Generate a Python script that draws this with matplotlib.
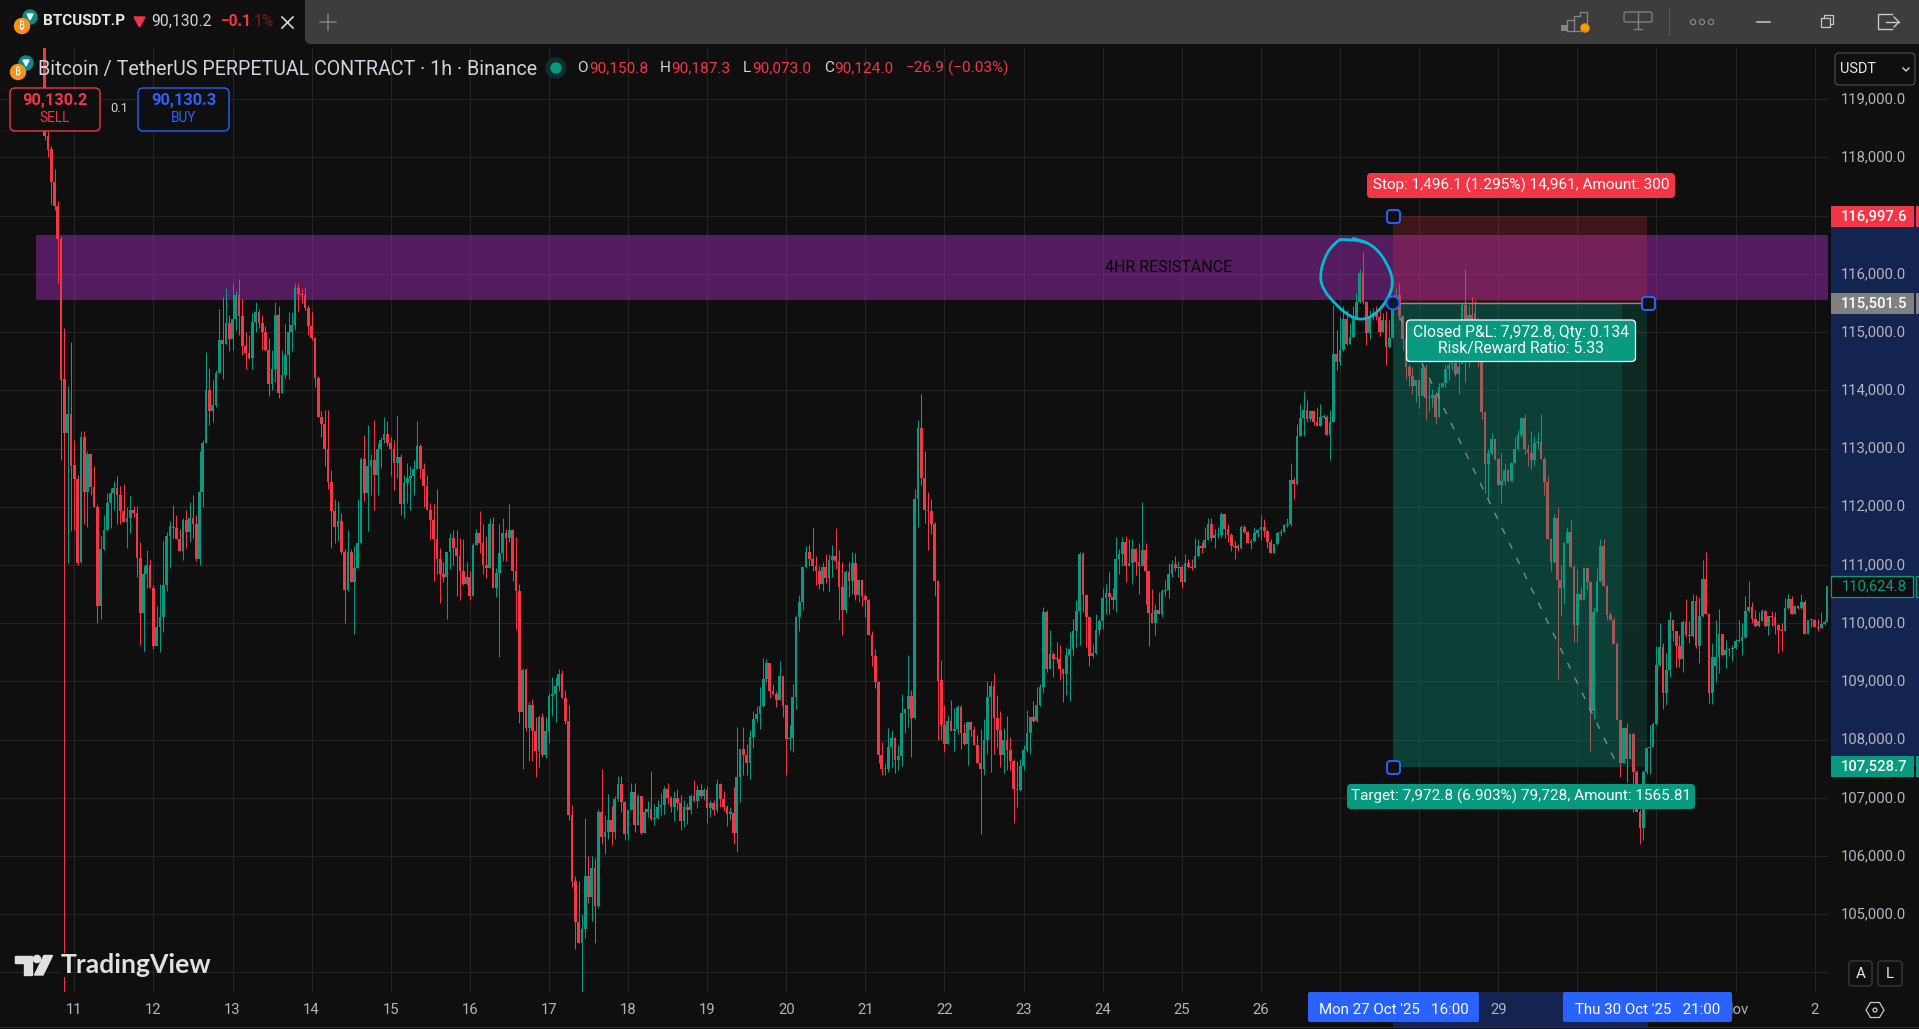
import matplotlib
matplotlib.use('Agg')
import matplotlib.pyplot as plt
from matplotlib.patches import FancyBboxPatch, Rectangle, Circle, Polygon, PathPatch
from matplotlib.path import Path

plt.rcParams['font.family'] = ['Roboto', 'DejaVu Sans']

GREEN = '#089981'
RED = '#f23645'
BLUE = '#2962ff'
BG = '#0f0f0f'
GREY = '#b2b5be'

# BTCUSDT.P 1h candles, price in thousands: (open, high, low, close)
oct_10 = [(120.5,120.6,118.3,118.37),(118.37,118.45,118.0,118.13),(118.15,118.2,117.2,117.58),(117.58,117.8,117.1,117.17),
(117.17,117.25,115.85,116.6),(116.6,116.65,112.8,114.18),(114.2,115.07,103.5,113.26),(113.26,114.07,111.04,113.6),(113.6,114.83,111.58,112.7)]
oct_11 = [(112.72,113.14,111.6,112.48),(112.48,112.55,111.0,111.04),(111.05,113.3,111.04,113.2),(113.2,113.3,111.7,112.26),
(112.26,112.95,111.65,112.9),(112.9,112.92,112.2,112.34),(112.34,112.7,112.0,112.0),(112.0,112.05,110.0,110.3),
(110.3,111.49,110.07,111.28),(111.28,111.85,111.25,111.6),(111.6,112.23,111.6,112.06),(112.07,112.32,111.63,112.23),
(112.23,112.45,111.95,112.32),(112.32,112.52,111.7,112.2),(112.2,112.35,111.7,111.93),(111.93,112.39,111.74,111.74),
(111.74,112.0,111.3,111.8),(111.8,112.2,111.55,111.95),(111.95,112.02,111.82,111.9),(111.9,112.02,110.8,111.12),
(111.12,111.4,109.63,110.17),(110.17,110.98,109.52,110.85),(110.85,111.25,110.6,111.0),(111.0,111.1,110.6,110.6)]
oct_12 = [(110.6,110.65,109.55,109.6),(109.6,110.3,109.6,109.94),(109.94,110.68,109.51,110.1),(110.1,111.42,109.85,110.65),
(110.65,111.56,110.56,111.5),(111.5,111.75,110.94,111.67),(111.65,112.03,111.47,111.63),(111.63,111.86,111.45,111.45),
(111.45,111.62,111.24,111.24),(111.24,111.8,111.08,111.77),(111.77,111.95,111.3,111.57),(111.57,112.08,111.4,111.8),
(111.8,112.2,111.47,111.7),(111.7,111.85,111.07,111.1),(111.1,112.95,111.0,112.25),(112.25,113.14,112.0,113.1),
(113.1,114.66,113.1,114.0),(114.0,114.39,113.4,113.65),(113.65,114.18,113.45,113.75),(113.75,114.35,113.72,114.3),
(114.3,115.4,114.3,114.87),(114.87,115.6,114.2,114.8),(114.8,115.75,114.8,115.15),(115.15,115.3,114.68,114.88)]
oct_13 = [(114.88,115.84,114.7,115.23),(115.23,115.7,115.04,115.64),(115.64,115.92,114.95,115.27),(115.27,115.57,114.6,114.76),
(114.76,115.0,114.37,114.64),(114.64,114.95,114.53,114.55),(114.55,115.32,114.37,115.17),(115.17,115.51,115.0,115.35),
(115.35,115.4,115.07,115.15),(115.15,115.3,114.7,115.0),(115.0,115.1,114.67,114.7),(114.7,114.9,113.9,114.1),
(114.1,114.7,114.0,114.37),(114.37,115.51,114.15,115.3),(115.3,115.44,113.86,113.95),(113.95,114.7,113.95,114.27),
(114.27,115.14,114.2,114.6),(114.6,115.35,114.2,115.0),(115.0,115.34,114.67,115.12),(115.12,115.84,115.03,115.75),
(115.75,115.84,115.34,115.65),(115.65,115.76,115.5,115.63),(115.63,115.78,115.38,115.42),(115.42,115.47,114.95,115.1)]
oct_14 = [(115.1,115.37,114.86,114.9),(114.9,114.92,114.05,114.22),(114.22,114.25,113.55,113.55),(113.55,113.64,113.2,113.43),
(113.43,113.67,112.7,113.0),(113.0,113.67,112.3,112.42),(112.42,112.63,111.3,111.93),(111.93,112.14,111.38,111.65),
(111.65,112.1,111.42,111.75),(111.75,111.9,111.18,111.22),(111.22,111.27,110.0,110.57),(110.57,111.6,110.55,111.22),
(111.22,111.27,110.7,110.7),(110.7,111.32,109.82,110.95),(110.95,112.14,110.95,111.37),(111.37,112.85,111.37,112.82),
(112.82,113.23,112.1,112.23),(112.23,113.4,111.58,112.7),(112.7,112.9,112.2,112.8),(112.8,113.49,111.95,112.55),
(112.55,113.1,112.2,113.0),(113.0,113.2,112.66,113.15),(113.15,113.55,113.1,113.25),(113.25,113.47,113.05,113.1)]
oct_15 = [(113.1,113.2,112.53,113.0),(113.0,113.14,112.28,112.75),(112.75,113.57,112.5,112.85),(112.85,112.9,111.85,112.05),
(112.05,112.55,111.8,112.4),(112.4,112.75,112.07,112.5),(112.5,112.7,111.95,112.53),(112.53,112.8,112.2,112.65),
(112.65,113.48,112.65,113.05),(113.05,113.08,112.5,112.65),(112.65,112.75,112.0,112.35),(112.35,112.55,111.95,111.95),
(111.95,112.07,111.43,111.78),(111.78,112.07,110.73,111.45),(111.45,112.3,110.85,111.1),(111.1,111.3,110.35,110.85),
(110.85,111.05,110.7,110.8),(110.8,111.23,110.07,111.23),(111.23,111.55,110.93,111.47),(111.47,111.6,111.0,111.3),
(111.3,111.6,110.47,111.15),(111.15,111.47,110.4,110.9),(110.9,111.44,110.66,110.67),(110.67,111.05,110.65,110.8)]
oct_16 = [(110.8,110.9,110.4,110.47),(110.47,111.37,110.47,111.35),(111.35,111.62,111.35,111.55),(111.55,111.93,111.2,111.38),
(111.38,111.7,110.84,111.0),(111.0,111.5,110.77,110.95),(110.95,111.8,110.95,111.7),(111.7,111.83,110.6,110.6),
(110.6,110.95,110.45,110.87),(110.87,111.7,109.42,111.2),(111.2,111.8,111.07,111.55),(111.55,111.62,111.07,111.47),
(111.47,112.05,111.4,111.6),(111.6,111.62,110.72,110.9),(110.9,111.48,109.9,110.55),(110.55,110.67,108.28,108.48),
(108.48,109.23,107.5,109.2),(109.2,109.23,108.15,108.2),(108.2,108.65,107.64,108.6),(108.6,108.7,107.64,108.15),
(108.15,108.38,107.36,107.8),(107.8,108.42,107.53,108.38),(108.38,108.45,107.7,107.73),(107.73,108.38,107.68,108.15)]
oct_17 = [(108.15,108.8,107.94,108.75),(108.75,109.07,108.4,108.78),(108.78,109.07,108.3,108.92),(108.92,109.21,108.84,109.13),
(109.13,109.2,108.72,108.72),(108.72,108.85,108.26,108.32),(108.32,108.6,106.62,106.7),(106.7,106.87,105.47,105.57),
(105.57,105.65,104.4,104.86),(104.86,105.57,104.5,104.5),(104.5,105.0,103.5,104.75),(104.75,106.65,104.6,105.65),
(105.65,106.0,105.2,105.3),(105.3,106.0,104.88,105.8),(105.8,105.97,104.5,105.15),(105.15,106.8,105.1,106.75),
(106.75,107.5,106.2,106.33),(106.33,106.7,106.04,106.41),(106.41,107.06,106.3,106.62),(106.62,106.86,106.19,106.42),
(106.42,107.03,106.3,106.98),(106.98,107.37,106.95,107.23),(107.23,107.37,106.75,106.93),(106.93,106.95,106.27,106.38)]
oct_18 = [(106.38,106.79,106.27,106.79),(106.79,107.25,106.79,107.1),(107.1,107.25,106.42,106.53),(106.53,107.07,106.53,107.03),
(107.03,107.03,106.38,106.39),(106.39,106.82,106.39,106.76),(106.76,106.94,106.67,106.8),(106.8,107.46,106.62,106.63),
(106.63,106.9,106.53,106.65),(106.65,106.96,106.63,106.84),(106.84,107.09,106.7,106.87),(106.87,107.2,106.72,107.16),
(107.16,107.25,106.89,107.0),(107.0,107.04,106.75,106.84),(106.84,107.12,106.6,107.0),(107.0,107.16,106.79,106.91),
(106.91,107.05,106.44,106.6),(106.6,106.97,106.5,106.84),(106.84,106.91,106.55,106.79),(106.79,107.07,106.72,107.03),
(107.03,107.3,106.93,106.94),(106.94,107.22,106.82,107.13),(107.13,107.25,107.0,107.04),(107.04,107.17,106.97,107.13)]
oct_19 = [(107.13,107.21,106.57,106.82),(106.82,106.97,106.67,106.91),(106.91,106.97,106.7,106.79),(106.79,107.32,106.75,107.23),
(107.23,107.25,106.84,106.98),(106.98,107.12,106.78,106.85),(106.85,106.87,106.51,106.73),(106.73,106.84,106.62,106.74),
(106.74,107.19,106.2,106.4),(106.4,108.21,106.07,107.36),(107.36,107.84,106.93,107.84),(107.84,108.21,107.4,107.73),
(107.73,107.93,107.39,107.6),(107.6,108.17,107.33,108.04),(108.04,108.49,107.85,108.36),(108.36,108.58,108.3,108.44),
(108.44,108.91,108.19,108.58),(108.58,109.4,108.56,109.04),(109.04,109.38,108.99,109.31),(109.31,109.32,108.72,108.84),
(108.84,108.95,108.77,108.78),(108.78,108.84,108.56,108.68),(108.68,109.35,108.68,109.09),(109.09,109.09,108.38,108.58)]
oct_20 = [(108.59,108.59,107.4,108.01),(108.01,108.25,107.83,108.02),(108.02,108.95,107.78,108.73),(108.73,110.12,108.53,110.1),
(110.1,110.49,109.87,110.37),(110.37,110.97,110.23,110.97),(110.97,111.32,110.95,111.23),(111.23,111.35,110.99,111.1),
(111.1,111.65,110.89,110.99),(110.99,111.15,110.66,110.89),(110.89,110.99,110.59,110.68),(110.68,111.05,110.55,110.97),
(110.97,111.19,110.69,110.78),(110.78,111.18,110.53,111.09),(111.09,111.35,110.79,111.15),(111.15,111.64,110.93,111.07),
(111.07,111.25,110.05,110.62),(110.62,111.05,109.8,110.23),(110.23,110.91,110.17,110.88),(110.88,111.05,110.45,110.72),
(110.72,111.22,110.5,111.04),(111.04,111.2,110.39,110.49),(110.49,110.76,110.36,110.74),(110.74,110.74,110.3,110.46)]
oct_21 = [(110.46,110.5,110.1,110.39),(110.39,110.42,109.79,109.79),(109.79,109.87,109.26,109.44),(109.44,109.56,108.88,108.99),
(108.99,109.0,107.59,107.73),(107.73,107.96,107.4,107.49),(107.49,107.6,107.4,107.5),(107.5,108.2,107.44,107.87),
(107.87,108.17,107.53,108.03),(108.03,108.05,107.42,107.65),(107.65,107.9,107.47,107.72),(107.72,108.79,107.54,108.45),
(108.45,108.52,108.12,108.52),(108.52,109.46,108.21,108.75),(108.75,108.86,107.7,108.37),(108.37,112.3,108.35,112.13),
(112.13,113.49,111.65,113.35),(113.35,113.93,112.37,112.49),(112.49,112.95,111.72,111.94),(111.94,112.26,111.25,111.93),
(111.93,112.14,111.54,111.7),(111.7,111.73,110.47,110.72),(110.72,110.75,108.0,109.0),(109.02,109.37,108.0,108.25)]
oct_22 = [(108.25,108.6,107.79,107.92),(107.92,108.43,107.92,108.32),(108.32,108.68,108.15,108.15),(108.15,108.55,107.8,108.18),
(108.18,108.6,108.09,108.56),(108.56,108.6,107.84,108.12),(108.12,108.29,107.9,107.92),(107.92,108.3,107.56,108.3),
(108.3,108.32,108.07,108.16),(108.16,108.23,107.9,107.9),(107.9,108.08,107.59,107.6),(107.6,108.18,106.38,107.49),
(107.49,108.35,107.4,108.0),(108.0,109.0,107.75,108.73),(108.73,109.0,107.45,108.92),(108.92,109.15,107.75,108.37),
(108.37,108.77,107.86,108.16),(108.16,108.5,107.53,107.73),(107.73,108.2,107.43,107.99),(107.99,108.4,107.48,107.82),
(107.82,108.05,107.47,107.63),(107.63,107.67,106.56,107.15),(107.15,107.64,106.85,107.13),(107.13,107.66,107.12,107.54)]
oct_23 = [(107.54,107.9,107.47,107.82),(107.82,108.51,107.79,108.11),(108.11,108.38,107.75,108.38),(108.38,108.66,108.3,108.32),
(108.32,108.9,108.3,108.59),(108.59,108.96,108.58,108.9),(108.9,110.28,108.8,110.2),(110.2,110.23,109.17,109.21),
(109.21,109.89,109.21,109.47),(109.47,109.51,109.07,109.39),(109.39,109.68,109.32,109.38),(109.38,109.63,109.02,109.21),
(109.21,109.22,108.64,109.13),(109.13,109.59,108.76,109.45),(109.45,109.87,108.66,109.56),(109.56,110.08,109.44,109.87),
(109.87,110.4,109.59,110.21),(110.21,111.23,109.63,111.18),(111.18,111.23,110.19,110.49),(110.49,110.5,109.59,110.11),
(110.11,110.12,109.26,109.44),(109.44,109.64,109.41,109.49),(109.49,110.15,109.47,109.89),(109.89,110.08,109.79,110.03)]
oct_24 = [(110.03,110.6,109.9,110.44),(110.44,110.68,110.15,110.52),(110.52,110.88,110.15,110.45),(110.45,110.6,110.25,110.39),
(110.39,111.48,110.2,111.11),(111.11,111.28,110.85,111.19),(111.19,111.48,110.99,111.4),(111.4,111.5,110.7,110.99),
(110.99,111.44,110.98,111.03),(111.03,111.45,110.67,111.28),(111.28,111.3,110.82,111.05),(111.05,111.38,110.5,110.99),
(110.99,112.09,110.98,111.25),(111.25,111.38,110.33,110.89),(110.89,110.9,109.6,110.17),(110.17,110.59,110.0,110.0),
(110.0,110.33,109.79,110.22),(110.22,110.53,110.15,110.15),(110.15,110.59,110.1,110.55),(110.55,110.74,110.47,110.57),
(110.57,111.03,110.44,110.85),(110.85,111.08,110.8,111.02),(111.02,111.15,110.9,110.95),(110.95,111.06,110.8,110.96)]
oct_25 = [(110.96,111.0,110.6,110.71),(110.71,111.18,110.7,111.03),(111.03,111.1,110.94,110.96),(110.96,111.1,110.92,110.94),
(110.94,111.47,110.94,111.16),(111.16,111.44,111.14,111.33),(111.33,111.39,111.2,111.29),(111.29,111.65,111.29,111.43),
(111.43,111.8,111.43,111.71),(111.71,111.8,111.42,111.46),(111.46,111.62,111.3,111.51),(111.51,111.65,111.46,111.52),
(111.52,111.91,111.47,111.87),(111.87,111.88,111.47,111.61),(111.61,111.7,111.4,111.52),(111.52,111.55,111.24,111.32),
(111.32,111.42,111.1,111.31),(111.31,111.36,111.24,111.3),(111.3,111.68,111.27,111.66),(111.66,111.68,111.55,111.56),
(111.56,111.58,111.37,111.38),(111.38,111.44,111.28,111.41),(111.41,111.65,111.4,111.55),(111.55,111.62,111.48,111.6)]
oct_26 = [(111.6,111.86,111.43,111.66),(111.66,111.79,111.48,111.58),(111.58,111.6,111.3,111.39),(111.39,111.45,111.2,111.2),
(111.2,111.36,111.2,111.36),(111.36,111.56,111.34,111.55),(111.55,111.62,111.5,111.57),(111.57,111.71,111.56,111.68),
(111.68,111.8,111.66,111.71),(111.71,112.76,111.67,112.46),(112.46,112.51,112.13,112.39),(112.39,113.43,112.37,113.22),
(113.22,113.77,113.22,113.53),(113.53,113.99,113.22,113.67),(113.67,113.84,113.45,113.5),(113.5,113.67,113.47,113.64),
(113.64,113.67,113.4,113.45),(113.45,113.71,113.38,113.38),(113.38,113.77,113.38,113.54),(113.54,113.6,113.52,113.55),
(113.55,113.57,113.23,113.24),(113.24,113.67,112.8,113.45),(113.45,115.47,113.45,114.63),(114.63,115.03,114.35,114.49)]
oct_27 = [(114.49,115.26,114.44,114.7),(114.7,115.44,114.68,115.22),(115.22,115.38,114.77,114.8),(114.8,115.15,114.8,114.92),
(114.92,115.44,114.92,115.22),(115.22,115.67,115.22,115.51),(115.51,116.09,115.5,116.02),(116.02,116.37,115.49,115.51),
(115.51,115.53,114.78,114.99),(114.99,115.38,114.89,115.24),(115.24,115.42,115.2,115.32),(115.32,115.44,115.2,115.26),
(115.26,115.39,114.93,115.0),(115.0,115.32,115.0,115.21),(115.21,115.36,114.44,114.75),(114.75,115.21,114.73,114.9),
(114.9,115.55,114.9,115.44),(115.44,115.76,115.42,115.64),(115.64,115.84,115.2,115.28),(115.28,115.3,114.7,114.88),
(114.88,114.9,114.2,114.4),(114.4,114.46,114.08,114.25),(114.25,114.4,113.93,114.08),(114.08,114.18,113.8,114.18)]
oct_28 = [(114.18,114.18,113.7,113.91),(113.91,114.49,113.91,114.38),(114.38,114.46,113.49,113.87),(113.87,114.18,113.65,113.86),
(113.86,114.03,113.71,113.92),(113.92,113.97,113.42,113.55),(113.55,114.13,113.55,114.05),(114.05,114.13,114.05,114.13),
(114.13,114.46,114.05,114.36),(114.36,114.49,114.18,114.43),(114.43,114.5,114.35,114.47),(114.47,114.55,114.25,114.28),
(114.28,114.52,113.93,114.4),(114.46,115.5,114.45,115.47),(115.47,116.08,114.14,114.5),(114.5,115.47,114.4,115.3),
(115.3,115.6,114.6,115.0),(115.32,115.55,115.0,115.15),(115.15,115.25,114.4,114.6),(114.6,114.65,113.5,113.62),
(113.62,113.65,112.23,112.74),(112.74,113.0,112.14,112.93),(112.93,113.27,112.89,113.16),(113.16,113.17,112.8,112.82)]
oct_29 = [(112.82,112.83,112.37,112.37),(112.37,112.93,112.07,112.45),(112.45,112.75,112.37,112.63),(112.63,112.65,112.42,112.45),
(112.45,112.77,112.44,112.76),(112.76,113.2,112.75,112.99),(112.99,113.32,112.97,113.23),(113.23,113.52,113.2,113.52),
(113.52,113.59,112.9,113.0),(113.0,113.07,112.7,112.93),(112.93,113.3,112.65,112.8),(112.8,113.22,112.72,113.1),
(113.1,113.28,113.0,113.11),(113.11,113.59,112.82,112.82),(112.82,112.85,112.2,112.43),(112.43,112.52,111.44,111.44),
(111.44,111.47,110.9,111.05),(111.05,111.87,111.03,111.81),(111.81,112.0,109.04,110.75),(110.75,111.0,110.13,110.61),
(110.61,111.4,110.35,111.38),(111.38,111.66,111.37,111.56),(111.56,111.77,110.97,110.97),(110.97,111.0,109.68,109.97)]
oct_30 = [(109.97,110.93,109.68,110.5),(110.5,110.63,110.4,110.4),(110.4,110.95,110.4,110.94),(110.94,110.95,110.57,110.7),
(110.7,110.72,107.8,108.49),(108.49,110.28,108.36,110.2),(110.2,110.94,110.2,110.72),(110.72,111.44,110.71,111.33),
(111.33,111.44,110.64,110.64),(110.64,110.66,110.05,110.14),(110.14,110.2,110.05,110.06),(110.06,110.1,109.65,109.65),
(109.65,109.68,108.33,108.33),(108.33,108.35,107.35,107.59),(107.59,108.2,107.59,108.2),(108.2,108.28,107.27,107.67),
(107.67,108.11,107.67,108.1),(108.1,108.12,106.75,107.45),(107.45,107.48,106.75,106.75),(106.75,106.8,106.2,106.48),
(106.48,107.48,106.27,107.44),(107.44,107.88,107.41,107.86),(107.86,108.25,107.41,107.87),(107.87,108.31,107.87,108.27)]
oct_31 = [(108.27,109.6,108.25,109.28),(109.28,110.01,109.26,109.59),(109.59,109.66,108.53,108.8),(108.8,109.48,108.59,109.2),
(109.2,110.21,109.07,110.06),(110.06,110.06,109.69,109.86),(109.86,109.87,109.25,109.6),(109.6,109.79,109.25,109.38),
(109.38,110.06,109.17,110.02),(110.02,110.41,109.77,109.8),(109.8,110.03,109.66,109.78),(109.78,110.5,109.76,110.38),
(110.38,110.49,109.57,109.6),(109.6,110.45,109.32,110.12),(110.12,111.09,110.11,110.76),(110.76,111.23,110.16,110.16),
(110.16,110.17,108.63,108.8),(108.8,109.66,108.62,109.42),(109.26,110.05,108.99,109.42),(109.42,110.24,109.14,109.81),
(109.81,109.81,109.44,109.45),(109.45,109.71,109.23,109.54),(109.54,109.57,109.44,109.55),(109.55,109.63,109.35,109.58)]
nov_1 = [(109.58,109.73,109.56,109.7),(109.69,110.06,109.68,109.7),(109.7,110.0,109.45,109.77),(109.77,110.46,109.75,110.21),
(110.21,110.72,110.2,110.27),(110.27,110.36,110.0,110.08),(110.08,110.23,109.93,109.95),(109.95,110.2,109.94,110.04),
(110.04,110.24,110.03,110.21),(110.21,110.23,109.94,109.95),(109.95,110.13,109.79,110.13),(110.13,110.21,109.95,110.1),
(110.1,110.19,109.82,109.97),(109.97,109.99,109.49,109.88),(109.88,110.0,109.52,109.87),(109.87,110.43,109.87,110.26),
(110.26,110.5,110.25,110.41),(110.41,110.47,110.16,110.16),(110.16,110.31,110.16,110.3),(110.3,110.31,110.25,110.26),
(110.26,110.5,110.25,110.37),(110.37,110.4,109.82,109.82),(109.82,110.06,109.82,110.06),(110.06,110.07,109.94,110.05)]
nov_2 = [(110.05,110.08,109.93,109.93),(109.93,110.07,109.87,109.92),(109.92,110.2,109.92,109.98),(109.98,110.05,109.97,110.02),
(110.02,110.82,110.0,110.64)]

days = [oct_10, oct_11, oct_12, oct_13, oct_14, oct_15, oct_16, oct_17, oct_18, oct_19, oct_20, oct_21, oct_22,
        oct_23, oct_24, oct_25, oct_26, oct_27, oct_28, oct_29, oct_30, oct_31, nov_1, nov_2]
first_hours = [-9] + [24 * i for i in range(23)]

price_ticks = list(range(104, 120))
# 104,000 and 117,000 sit under buttons and labels in the picture, same for the day labels under the crosshair boxes
hidden_prices = [104, 117]
day_labels = ['11', '12', '13', '14', '15', '16', '17', '18', '19', '20', '21', '22', '23', '24', '25', '26',
              '', '', '29', '', '', 'Nov', '2']

# drawings on the chart (hours from 11 Oct 00:00, price in thousands)
zone_low, zone_high = 115.55, 116.67
entry_price, stop_price, target_price = 115.5015, 116.9976, 107.5287
entry_hour, closed_hour, end_hour, line_end_hour = 400, 469.5, 477, 468.4
circle_hours = [385.6, 389.8, 394.6, 398.4, 400.3, 398.8, 394.6, 390.4, 386.2, 382, 379, 377.8, 379.3, 382.6, 385.6]
circle_prices = [116.63, 116.59, 116.47, 116.18, 115.87, 115.58, 115.29, 115.2, 115.29, 115.52, 115.72, 115.95, 116.3, 116.55, 116.63]

fig = plt.figure(figsize=(19.19, 10.29), dpi=100, facecolor=BG)

# chart area, from the pixel rectangle x 0-1828, y 48-991.7
ax = fig.add_axes([0, 1 - 991.7 / 1029, 1828 / 1919, (991.7 - 48) / 1029], zorder=1, facecolor=BG)
ax.set_xlim(-22.54, 532.06)
ax.set_ylim(103.67, 119.88)
for s in ax.spines.values():
    s.set_visible(False)

ax.set_yticks(price_ticks)
ax.set_yticklabels(['' if p in hidden_prices else f'{p * 1000:,.1f}' for p in price_ticks])
ax.yaxis.tick_right()
ax.set_xticks([24 * i for i in range(len(day_labels))])
ax.set_xticklabels(day_labels)
ax.tick_params(axis='y', length=0, pad=9.5, labelcolor=GREY, labelsize=10.7)
ax.tick_params(axis='x', length=0, pad=8, labelcolor=GREY, labelsize=10.7)
for t in ax.get_yticklabels():
    t.set_va('center')
ax.grid(True, color='#242424', linewidth=0.8)
ax.set_axisbelow(True)

# 4HR resistance zone sits under the candles
ax.axhspan(zone_low, zone_high, xmin=36 / 1828, color='#9c27b0', alpha=0.5, linewidth=0, zorder=1)

# candles
for start, rows in zip(first_hours, days):
    hours = [start + i for i in range(len(rows))]
    opens = [r[0] for r in rows]
    highs = [r[1] for r in rows]
    lows = [r[2] for r in rows]
    closes = [r[3] for r in rows]
    colors = [GREEN if c >= o else RED for o, c in zip(opens, closes)]
    bottoms = [min(o, c) for o, c in zip(opens, closes)]
    heights = [max(abs(c - o), 0.02) for o, c in zip(opens, closes)]
    ax.vlines(hours, lows, highs, colors=colors, linewidth=0.75, zorder=2)
    ax.bar(hours, heights, bottom=bottoms, width=0.82, color=colors, linewidth=0, zorder=3)

# short position tool goes over the candles
ax.fill_between([entry_hour, end_hour], entry_price, stop_price, color=RED, alpha=0.2, linewidth=0, zorder=4)
ax.fill_between([entry_hour, closed_hour], target_price, entry_price, color=GREEN, alpha=0.35, linewidth=0, zorder=4)
ax.fill_between([closed_hour, end_hour], target_price, entry_price, color=GREEN, alpha=0.2, linewidth=0, zorder=4)
ax.plot([entry_hour, end_hour], [entry_price, entry_price], color='#8a8f94', linewidth=1, zorder=5)
ax.plot([entry_hour, line_end_hour], [entry_price, target_price], color='#7f8a87', linewidth=1,
        linestyle=(0, (5, 7)), zorder=5)

# hand drawn circle
verts = [((circle_hours[0] + circle_hours[1]) / 2, (circle_prices[0] + circle_prices[1]) / 2)]
codes = [Path.MOVETO]
for i in range(1, len(circle_hours) - 1):
    verts.append((circle_hours[i], circle_prices[i]))
    verts.append(((circle_hours[i] + circle_hours[i + 1]) / 2, (circle_prices[i] + circle_prices[i + 1]) / 2))
    codes += [Path.CURVE3, Path.CURVE3]
verts.append((circle_hours[1], circle_prices[1]))
verts.append(((circle_hours[1] + circle_hours[2]) / 2, (circle_prices[1] + circle_prices[2]) / 2))
codes += [Path.CURVE3, Path.CURVE3]
ax.add_patch(PathPatch(Path(verts, codes), fill=False, edgecolor='#00bcd4', linewidth=2, zorder=6))

# background layer in pixels: selection bands on the scales
bg = fig.add_axes([0, 0, 1, 1], zorder=-1)
bg.set_xlim(0, 1919)
bg.set_ylim(1029, 0)
bg.axis('off')
bg.add_patch(Rectangle((1831, 216), 88, 550, color='#142450', linewidth=0))
bg.add_patch(Rectangle((1393, 992), 255, 35, color='#142450', linewidth=0))
bg.add_patch(Rectangle((0, 1026.5), 1919, 1.5, color='#2e2e2e', linewidth=0))

# ui layer in pixels
ui = fig.add_axes([0, 0, 1, 1], zorder=5)
ui.set_xlim(0, 1919)
ui.set_ylim(1029, 0)
ui.axis('off')
ui.patch.set_alpha(0)


def box(x0, y0, x1, y1, fc, ec='none', r=3, lw=1.0):
    ui.add_patch(FancyBboxPatch((x0, y0), x1 - x0, y1 - y0, boxstyle=f'round,pad=0,rounding_size={r}',
                                facecolor=fc, edgecolor=ec, linewidth=lw))


def label(x, y, s, color='#ffffff', px=14, ha='center', weight='normal', **kw):
    ui.text(x, y, s, color=color, fontsize=px * 0.72, ha=ha, va='center', fontweight=weight, **kw)


def coin_logo(x, y):
    ui.add_patch(Circle((x + 8, y - 9), 7, color='#0c8a86'))
    ui.add_patch(Polygon([(x + 5, y - 12), (x + 11, y - 12), (x + 8, y - 6)], color='#e8f5f5'))
    ui.add_patch(Circle((x, y), 7.5, color='#f7931a'))
    label(x, y, '₿', px=10, family=['Noto Sans', 'Inter', 'Open Sans', 'Lato', 'Roboto', 'DejaVu Sans'])


# top bar and tab
ui.add_patch(Rectangle((0, 0), 1919, 44, color=BG, linewidth=0))
box(305, -10, 1929, 44, '#3d3d3d', r=6)
coin_logo(22, 26)
label(43, 21, 'BTCUSDT.P', color='#e8e8e8', px=15.2, ha='left', weight='bold')
ui.add_patch(Polygon([(134, 17), (145, 17), (139.5, 27)], color=RED))
label(151, 21, '90,130.2', color='#d1d4dc', px=15.8, ha='left')
label(221, 21, '−0.1', color=RED, px=15.5, ha='left', weight='bold')
label(254, 21, '1%', color='#5c1a20', px=15.5, ha='left', weight='bold')
ui.plot([282, 293], [17, 28], color='#d8d8d8', lw=1.2)
ui.plot([282, 293], [28, 17], color='#d8d8d8', lw=1.2)
ui.plot([320, 336], [22, 22], color='#808080', lw=1.1)
ui.plot([328, 328], [14, 30], color='#808080', lw=1.1)

# top right window icons
icon = '#85858a'
ui.add_patch(Rectangle((1561, 25), 6, 6, color=icon, linewidth=0))
ui.plot([1567, 1567, 1574, 1574, 1580, 1580, 1587, 1587], [31, 20, 20, 16, 16, 12, 12, 24], color=icon, lw=0.9)
ui.plot([1567, 1584], [31, 31], color=icon, lw=0.9)
ui.plot([1574, 1574], [20, 31], color=icon, lw=0.9)
ui.add_patch(Circle((1585, 28), 4, color='#ff9800'))
box(1624, 12, 1652, 22, 'none', ec=icon, r=2, lw=0.9)
ui.plot([1638, 1638], [12, 29], color=icon, lw=0.9)
ui.plot([1634, 1642], [29, 29], color=icon, lw=0.9)
ui.plot([1669, 1669], [8, 35], color='#5a5a5a', lw=0.8)
for cx in [1693, 1702, 1711]:
    ui.add_patch(Circle((cx, 22), 2.6, facecolor='none', edgecolor=icon, linewidth=0.9))
ui.plot([1757, 1770], [22, 22], color='#c8c8c8', lw=1.1)
ui.add_patch(Rectangle((1824, 15), 9, 9, fill=False, edgecolor='#c8c8c8', linewidth=0.9))
ui.add_patch(Rectangle((1821, 18), 9, 9, facecolor='#3d3d3d', edgecolor='#c8c8c8', linewidth=0.9))
ui.plot([1892, 1878, 1878, 1892], [14, 14, 29, 29], color='#c8c8c8', lw=1.0)
ui.plot([1886, 1899], [22, 22], color='#c8c8c8', lw=1.0)
ui.plot([1894, 1899, 1894], [17, 22, 27], color='#c8c8c8', lw=1.0)

# symbol header
coin_logo(18, 72)
label(38, 69, 'Bitcoin / TetherUS PERPETUAL CONTRACT · 1h · Binance', color='#d1d4dc', px=19.6, ha='left')
ui.add_patch(Circle((556, 68), 10, color='#0e2f2b'))
ui.add_patch(Circle((556, 68), 5, color=GREEN))
for x, s, c in [(577, 'O', '#d1d4dc'), (589, '90,150.8', RED), (660, 'H', '#d1d4dc'), (671, '90,187.3', RED),
                (743, 'L', '#d1d4dc'), (752, '90,073.0', RED), (824, 'C', '#d1d4dc'), (834, '90,124.0', RED),
                (906, '−26.9', RED), (948, '(−0.03%)', RED)]:
    label(x, 68, s, color=c, px=15.4, ha='left')

# sell and buy buttons
box(10, 88, 100, 131, BG, ec=RED, r=5, lw=1.0)
label(55, 100, '90,130.2', color=RED, px=16.4, weight='bold')
label(55, 118, 'SELL', color=RED, px=13.6)
label(119, 108, '0.1', color='#d1d4dc', px=13)
box(138, 88, 229, 131, BG, ec=BLUE, r=5, lw=1.0)
label(183.5, 100, '90,130.3', color=BLUE, px=16.4, weight='bold')
label(183.5, 118, 'BUY', color=BLUE, px=13.6)

# usdt selector
box(1835, 53, 1915, 85, BG, ec='#4a4a4a', r=4, lw=0.9)
label(1840, 69, 'USDT', color='#e8e8e8', px=14.5, ha='left')
ui.plot([1903, 1906, 1909], [68, 71, 68], color='#d1d4dc', lw=1.0)

# tool labels
box(1367, 173, 1675, 198, RED, r=4)
label(1521, 185.5, 'Stop: 1,496.1 (1.295%) 14,961, Amount: 300', px=15.3)
box(1406.5, 320, 1635.5, 361.5, GREEN, ec='#ffffff', r=4, lw=0.9)
label(1521, 332.5, 'Closed P&L: 7,972.8, Qty: 0.134', px=15.6)
label(1521, 348, 'Risk/Reward Ratio: 5.33', px=15.6)
box(1347, 784, 1695, 809, GREEN, r=4)
label(1521, 796.5, 'Target: 7,972.8 (6.903%) 79,728, Amount: 1565.81', px=15.3)
label(1169, 267, '4HR RESISTANCE', color='#050505', px=16)

# tool handles
box(1387, 210, 1400, 223, BG, ec=BLUE, r=3, lw=1.4)
box(1642, 297, 1655, 310, BG, ec=BLUE, r=3, lw=1.4)
box(1387, 761, 1400, 774, BG, ec=BLUE, r=3, lw=1.4)
ui.add_patch(Circle((1393, 303), 6.5, facecolor='#0d1a2e', edgecolor=BLUE, linewidth=1.4))

# price scale labels
for y0, y1, fc, s in [(206, 227, RED, '116,997.6'), (293, 314, '#808080', '115,501.5'), (756, 777, GREEN, '107,528.7')]:
    ui.add_patch(Rectangle((1831, y0), 83, y1 - y0, color=fc, linewidth=0))
    ui.add_patch(Rectangle((1916, y0), 3, y1 - y0, color=fc, linewidth=0))
    label(1907, (y0 + y1) / 2, s, px=14.9, ha='right', weight='medium')
ui.add_patch(Rectangle((1831, 576), 82, 21, facecolor=BG, edgecolor=GREEN, linewidth=0.9))
ui.add_patch(Rectangle((1916, 576), 3, 21, facecolor=BG, edgecolor=GREEN, linewidth=0.9))
label(1907, 586.5, '110,624.8', color=GREEN, px=14.9, ha='right')

# crosshair time labels
box(1308, 992, 1479, 1022, BLUE, r=2)
label(1393.5, 1010, "Mon 27 Oct '25   16:00", px=15)
box(1563, 992, 1732, 1022, BLUE, r=2)
label(1647.5, 1010, "Thu 30 Oct '25   21:00", px=15)

# bottom right buttons
box(1849, 961, 1872, 986, BG, ec='#3c3c3c', r=3, lw=0.9)
label(1860.5, 973.5, 'A', color='#e8e8e8', px=15)
box(1878, 961, 1902, 986, BG, ec='#3c3c3c', r=3, lw=0.9)
label(1890, 973.5, 'L', color='#e8e8e8', px=15)
ui.add_patch(Polygon([(1866, 1010), (1870.5, 1002.5), (1879.5, 1002.5), (1884, 1010), (1879.5, 1017.5), (1870.5, 1017.5)],
                     fill=False, edgecolor='#c8c8c8', linewidth=0.9))
ui.add_patch(Circle((1875, 1010), 2, fill=False, edgecolor='#c8c8c8', linewidth=0.9))

# TradingView mark
logo = '#e0e0e0'
ui.add_patch(Rectangle((60, 953), 11, 24, color=BG, linewidth=0))
ui.add_patch(Polygon([(15, 955.5), (32, 955.5), (32, 975), (24, 975), (24, 962.5), (15, 962.5)], color=logo))
ui.add_patch(Circle((37, 959), 3.6, color=logo))
ui.add_patch(Polygon([(44, 955.5), (52.5, 955.5), (43, 975), (34.5, 975)], color=logo))
label(60.5, 965, 'TradingView', color=logo, px=26.5, ha='left', weight='bold', family=['Lato', 'DejaVu Sans'])

fig.savefig('out.png', dpi=100, facecolor=BG)
